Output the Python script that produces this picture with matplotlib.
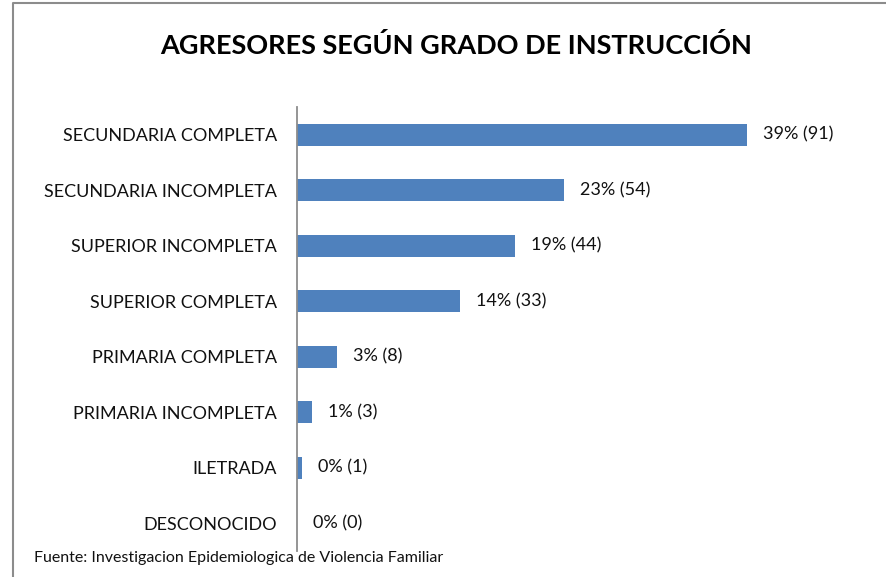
import matplotlib
matplotlib.use("Agg")
import matplotlib.pyplot as plt
from matplotlib.lines import Line2D

categories = ["SECUNDARIA COMPLETA", "SECUNDARIA INCOMPLETA", "SUPERIOR INCOMPLETA",
              "SUPERIOR COMPLETA", "PRIMARIA COMPLETA", "PRIMARIA INCOMPLETA",
              "ILETRADA", "DESCONOCIDO"]
counts = [91, 54, 44, 33, 8, 3, 1, 0]
percents = [39, 23, 19, 14, 3, 1, 0, 0]
title = "AGRESORES SEGÚN GRADO DE INSTRUCCIÓN"
source = "Fuente: Investigacion Epidemiologica de Violencia Familiar"

plt.rcParams['font.family'] = ['Lato', 'DejaVu Sans']

W, H = 887, 577
fig = plt.figure(figsize=(W / 100, H / 100), dpi=100)

# axes: x from 297 to 840 px, y from 107 to 551 px
x0, x1 = 297, 840
y0, y1 = 107, 551
ax = fig.add_axes([x0 / W, 1 - y1 / H, (x1 - x0) / W, (y1 - y0) / H])

ypos = list(range(len(categories)))
ax.barh(ypos, counts, height=0.4, color="#4F81BD")
ax.set_ylim(len(categories) - 0.5, -0.5)
ax.set_xlim(0, 91 * (x1 - x0) / (747 - x0))
ax.set_yticks(ypos)
ax.set_yticklabels(categories, fontsize=13, color="#111111")
ax.tick_params(axis='y', length=0, pad=14.4)
ax.set_xticks([])
for s in ["top", "right", "bottom"]:
    ax.spines[s].set_visible(False)
ax.spines["left"].set_color("#8c8c8c")
ax.spines["left"].set_linewidth(1.3)

for y, c, p in zip(ypos, counts, percents):
    ax.annotate(f"{p}% ({c})", xy=(c, y), xytext=(11.5, 0), textcoords="offset points",
                va="center", ha="left", fontsize=13, color="#111111")

fig.text(456 / W, 1 - 46 / H, title, ha="center", va="center",
         fontsize=19.5, fontweight="bold", color="black")
fig.text(34 / W, 1 - 558 / H, source, ha="left", va="center",
         fontsize=11.5, color="#111111")

# outer frame (left and top edges visible)
fig.add_artist(Line2D([13 / W, 13 / W, 1.0], [0.0, 1 - 3 / H, 1 - 3 / H],
                      transform=fig.transFigure, color="#8c8c8c", linewidth=1.5))

fig.savefig("out.png", dpi=100)
